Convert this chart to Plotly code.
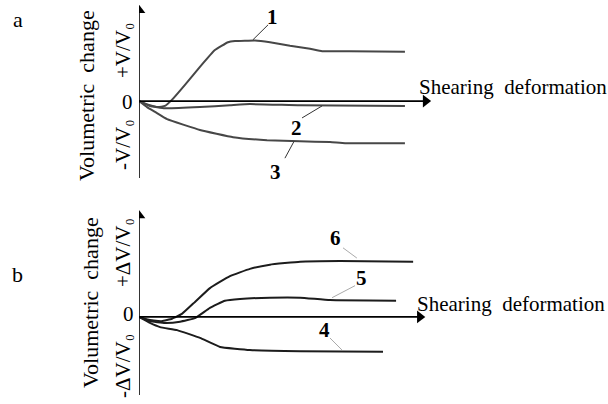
import plotly.graph_objects as go

# ---- Panel a data (shearing deformation, volumetric change) ----
a1_x = [0, 0.41, 0.71, 0.97, 1.23, 1.72, 2.28, 2.84, 3.33, 3.59, 4.34, 4.90, 5.65, 6.40, 6.85, 7.89, 9.95]
a1_y = [0, -0.07, -0.10, -0.08, 0.02, 0.27, 0.57, 0.85, 0.98, 1.00, 1.01, 0.98, 0.92, 0.87, 0.83, 0.83, 0.82]
a2_x = [0, 0.41, 0.97, 2.28, 3.40, 4.15, 6.02, 9.95]
a2_y = [0, -0.08, -0.12, -0.10, -0.07, -0.05, -0.07, -0.08]
a3_x = [0, 0.30, 0.60, 1.05, 2.28, 3.52, 4.79, 6.02, 7.15, 7.71, 9.95]
a3_y = [0, -0.10, -0.18, -0.30, -0.48, -0.60, -0.65, -0.67, -0.68, -0.70, -0.70]

# ---- Panel b data ----
b6_x = [0, 0.41, 0.86, 1.24, 1.61, 2.10, 2.66, 3.41, 4.16, 4.91, 6.04, 7.54, 10.28]
b6_y = [0, -0.05, -0.07, -0.03, 0.05, 0.25, 0.48, 0.68, 0.80, 0.87, 0.92, 0.93, 0.92]
b5_x = [0, 0.41, 0.97, 1.54, 2.10, 2.66, 3.22, 3.79, 4.91, 6.04, 7.16, 9.64]
b5_y = [0, -0.07, -0.10, -0.08, -0.02, 0.15, 0.27, 0.30, 0.32, 0.32, 0.28, 0.27]
b4_x = [0, 0.41, 0.79, 1.43, 2.29, 3.04, 4.16, 6.04, 9.15]
b4_y = [0, -0.10, -0.17, -0.22, -0.35, -0.50, -0.55, -0.57, -0.58]

# curve labels: (text, label x, label y, leader start x, y, leader end x, y)
labels_a = [("1", 5.01, 1.40, 4.83, 1.27, 4.26, 1.02),
            ("2", 5.91, -0.45, 6.10, -0.28, 6.85, -0.08),
            ("3", 5.09, -1.18, 5.46, -0.95, 5.80, -0.67)]
labels_b = [("6", 7.35, 1.32, 7.65, 1.15, 8.17, 0.98),
            ("5", 8.36, 0.65, 8.10, 0.52, 7.24, 0.32),
            ("4", 6.97, -0.22, 7.16, -0.35, 7.61, -0.55)]

xa_range = [0, 11]
ya_range = [-1.28, 1.6]
xb_range = [0, 10.8]
yb_range = [-1.3, 1.78]

SERIF = "Liberation Serif, Times New Roman, serif"
ca = "#474747"
cb = "#1c1c1c"

fig = go.Figure()
for xs, ys in [(a1_x, a1_y), (a2_x, a2_y), (a3_x, a3_y)]:
    fig.add_trace(go.Scatter(x=xs, y=ys, mode="lines", line=dict(color=ca, width=2, shape="spline", smoothing=0.3),
                             xaxis="x", yaxis="y", showlegend=False, hoverinfo="skip"))
for xs, ys in [(b6_x, b6_y), (b5_x, b5_y), (b4_x, b4_y)]:
    fig.add_trace(go.Scatter(x=xs, y=ys, mode="lines", line=dict(color=cb, width=2, shape="spline", smoothing=0.3),
                             xaxis="x2", yaxis="y2", showlegend=False, hoverinfo="skip"))

# axis lines with arrowheads (as traces)
for xr, yr, xrange_, yrange_ in [("x", "y", xa_range, ya_range), ("x2", "y2", xb_range, yb_range)]:
    xend = xrange_[1] * 0.975
    yend = yrange_[1] - (yrange_[1] - yrange_[0]) * 0.03
    fig.add_trace(go.Scatter(x=[0, xend], y=[0, 0], mode="lines", line=dict(color="black", width=1.6),
                             xaxis=xr, yaxis=yr, showlegend=False, hoverinfo="skip"))
    fig.add_trace(go.Scatter(x=[0, 0], y=[yrange_[0], yend], mode="lines", line=dict(color="black", width=1.6),
                             xaxis=xr, yaxis=yr, showlegend=False, hoverinfo="skip"))
    fig.add_trace(go.Scatter(x=[xend], y=[0], mode="markers",
                             marker=dict(symbol="triangle-right", size=11, color="black", line=dict(width=0)),
                             xaxis=xr, yaxis=yr, showlegend=False, hoverinfo="skip"))
    fig.add_trace(go.Scatter(x=[0], y=[yend], mode="markers",
                             marker=dict(symbol="triangle-up", size=11, color="black", line=dict(width=0)),
                             xaxis=xr, yaxis=yr, showlegend=False, hoverinfo="skip"))

ann = []
for (labs, xr, yr, lc) in [(labels_a, "x", "y", "#333333"), (labels_b, "x2", "y2", "#aaaaaa")]:
    for t, lx, ly, sx, sy, ex, ey in labs:
        ann.append(dict(x=lx, y=ly, xref=xr, yref=yr, text="<b>%s</b>" % t, showarrow=False,
                        font=dict(family=SERIF, size=21, color="black")))
        fig.add_trace(go.Scatter(x=[sx, ex], y=[sy, ey], mode="lines", line=dict(color=lc, width=1),
                                 xaxis=xr, yaxis=yr, showlegend=False, hoverinfo="skip"))

def ptxt(px, py, text, size=20, angle=0, xanchor="center"):
    ann.append(dict(x=px / 608, y=1 - py / 404, xref="paper", yref="paper", text=text,
                    showarrow=False, textangle=angle, xanchor=xanchor, yanchor="middle",
                    font=dict(family=SERIF, size=size, color="black")))

ptxt(18, 19, "a", size=22)
ptxt(17, 274, "b", size=22)
ptxt(86, 96, "Volumetric  change", size=22, angle=-90)
ptxt(123, 51, "+V/V₀", size=21, angle=-90)
ptxt(123, 145, "-V/V₀", size=21, angle=-90)
ptxt(127, 102, "0", size=21)
ptxt(417, 87, "Shearing  deformation", size=21, xanchor="left")
ptxt(90, 303, "Volumetric  change", size=22, angle=-90)
ptxt(123, 253, "+ΔV/V₀", size=21, angle=-90)
ptxt(123, 366, "-ΔV/V₀", size=21, angle=-90)
ptxt(128, 314, "0", size=21)
ptxt(415, 304, "Shearing  deformation", size=21, xanchor="left")

ax_common = dict(visible=False, fixedrange=True)
fig.update_layout(
    width=608, height=404, margin=dict(l=0, r=0, t=0, b=0),
    paper_bgcolor="white", plot_bgcolor="white",
    xaxis=dict(domain=[139 / 608, 433 / 608], range=xa_range, anchor="y", **ax_common),
    yaxis=dict(domain=[1 - 178 / 404, 1 - 5 / 404], range=ya_range, anchor="x", **ax_common),
    xaxis2=dict(domain=[139 / 608, 427 / 608], range=xb_range, anchor="y2", **ax_common),
    yaxis2=dict(domain=[1 - 395 / 404, 1 - 210 / 404], range=yb_range, anchor="x2", **ax_common),
    annotations=ann,
)
fig.write_html("out.html", config={"displayModeBar": False},
               post_script="document.body.style.margin='0';document.body.style.overflow='hidden';")
